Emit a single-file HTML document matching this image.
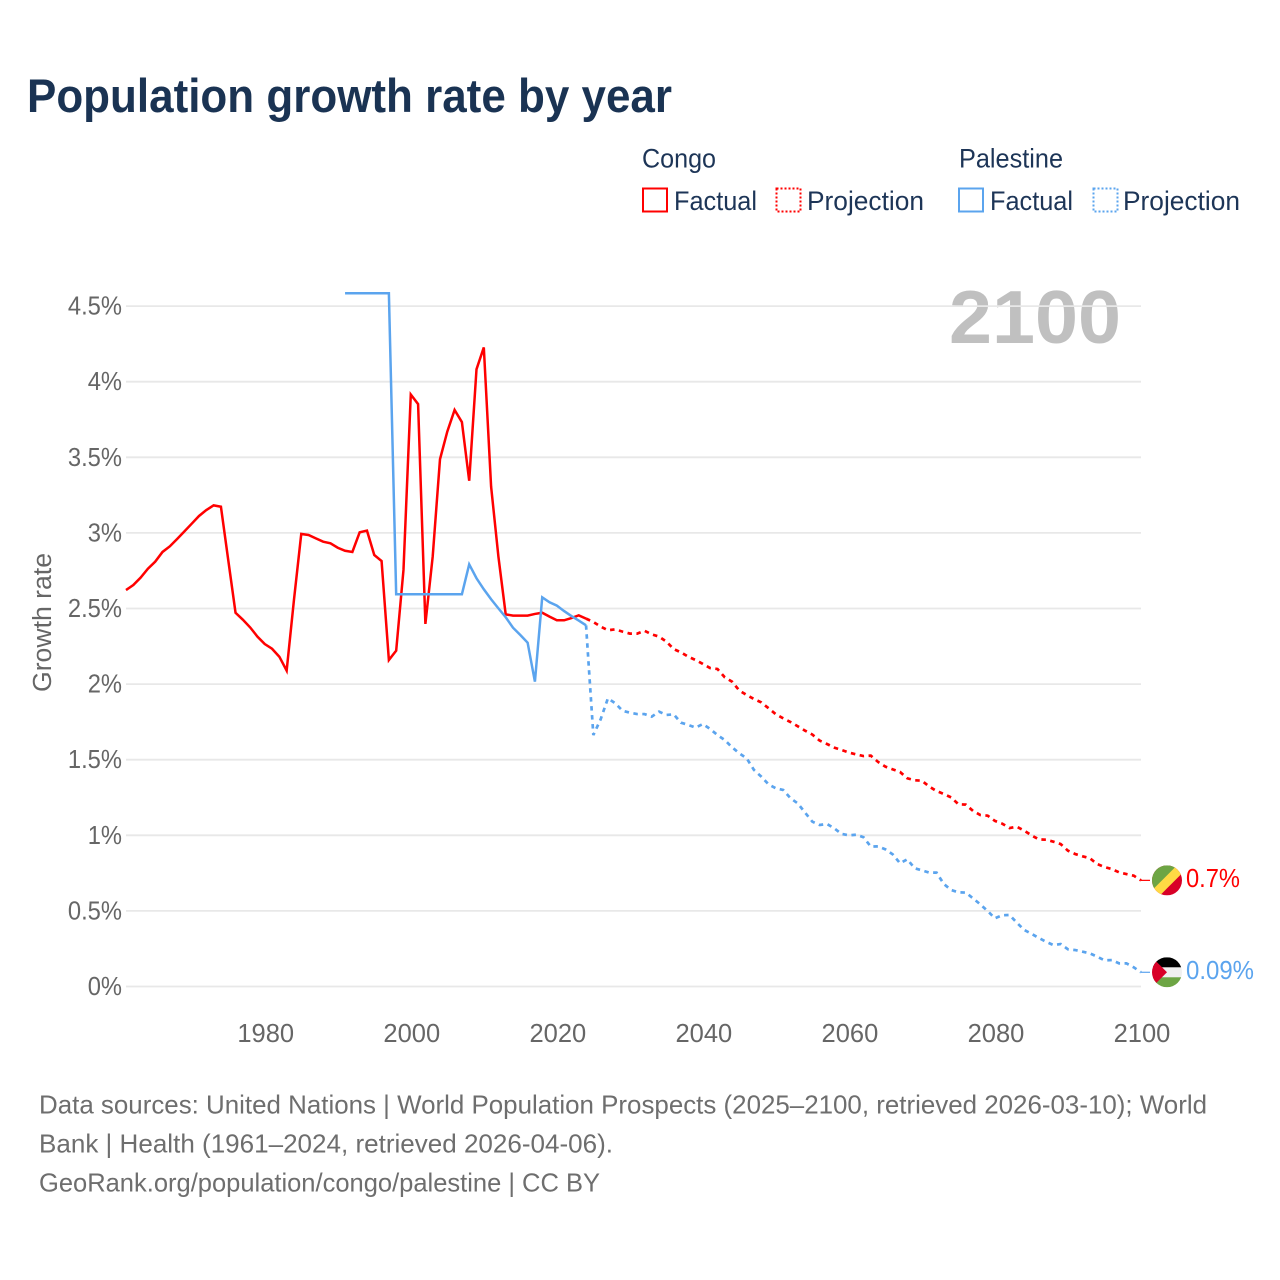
<!DOCTYPE html>
<html lang="en">
<head>
<meta charset="utf-8">
<title>Population growth rate by year</title>
<style>
  html, body { margin: 0; padding: 0; background: #ffffff; }
  #chart { display: block; width: 1280px; height: 1280px; font-family: "Liberation Sans", sans-serif; }
</style>
</head>
<body>
<svg id="chart" xmlns="http://www.w3.org/2000/svg" width="1280" height="1280" viewBox="0 0 1280 1280">
  <defs>
    <clipPath id="flag-clip-congo"><circle cx="0" cy="0" r="15"></circle></clipPath>
    <clipPath id="flag-clip-palestine"><circle cx="0" cy="0" r="15"></circle></clipPath>
  </defs>
  <text x="27" y="112" font-size="47.5" font-weight="700" fill="#1a3353" textLength="645" lengthAdjust="spacingAndGlyphs">Population growth rate by year</text>

  <g font-size="26.5" fill="#1d3557">
    <text x="642" y="167.5" textLength="74" lengthAdjust="spacingAndGlyphs">Congo</text>
    <text x="959" y="167.5" textLength="104" lengthAdjust="spacingAndGlyphs">Palestine</text>
    <rect x="643" y="188.5" width="24" height="23" fill="none" stroke="#ff0000" stroke-width="2"></rect>
    <text x="674" y="210" textLength="83" lengthAdjust="spacingAndGlyphs">Factual</text>
    <rect x="776.5" y="188.5" width="24" height="23" fill="none" stroke="#ff0000" stroke-width="2" stroke-dasharray="2 2"></rect>
    <text x="807" y="210" textLength="117" lengthAdjust="spacingAndGlyphs">Projection</text>
    <rect x="959" y="188.5" width="24" height="23" fill="none" stroke="#5ba4ee" stroke-width="2"></rect>
    <text x="990" y="210" textLength="83" lengthAdjust="spacingAndGlyphs">Factual</text>
    <rect x="1093.5" y="188.5" width="24" height="23" fill="none" stroke="#5ba4ee" stroke-width="2" stroke-dasharray="2 2"></rect>
    <text x="1123" y="210" textLength="117" lengthAdjust="spacingAndGlyphs">Projection</text>
  </g>

  <text x="949" y="343" font-size="75" font-weight="700" fill="#c0c0c0" textLength="172" lengthAdjust="spacingAndGlyphs">2100</text>

  <g id="grid-layer"></g>
  <g id="y-tick-layer" font-size="25.5" fill="#666666"></g>
  <g id="x-tick-layer" font-size="25.5" fill="#666666"></g>
  <text transform="translate(51,622.5) rotate(-90)" text-anchor="middle" font-size="25.5" fill="#666666" textLength="139" lengthAdjust="spacingAndGlyphs">Growth rate</text>
  <g id="series-layer"></g>

  <g id="flag-congo" clip-path="url(#flag-clip-congo)">
    <rect x="-15" y="-15" width="30" height="30" fill="#d80027"></rect>
    <polygon points="-15,15 -15,7 7,-15 15,-15 15,-7 -7,15" fill="#ffda44"></polygon>
    <polygon points="-15,-15 10,-15 -15,10" fill="#6da544"></polygon>
  </g>
  <g id="flag-palestine" clip-path="url(#flag-clip-palestine)">
    <rect x="-15" y="-15" width="30" height="30" fill="#f0f0f0"></rect>
    <rect x="-15" y="-15" width="30" height="10" fill="#000000"></rect>
    <rect x="-15" y="5" width="30" height="10" fill="#6da544"></rect>
    <polygon points="-15,-15 0,0 -15,15" fill="#d80027"></polygon>
  </g>
  <text id="end-label-congo" x="1186" font-size="26" fill="#ff0000" textLength="54" lengthAdjust="spacingAndGlyphs"></text>
  <text id="end-label-palestine" x="1186" font-size="26" fill="#5ba4ee" textLength="68" lengthAdjust="spacingAndGlyphs"></text>

  <g font-size="26" fill="#6e6e6e">
    <text x="39" y="1113.5" textLength="1168" lengthAdjust="spacingAndGlyphs">Data sources: United Nations | World Population Prospects (2025–2100, retrieved 2026-03-10); World</text>
    <text x="39" y="1152.5" textLength="574" lengthAdjust="spacingAndGlyphs">Bank | Health (1961–2024, retrieved 2026-04-06).</text>
    <text x="39" y="1191.5" textLength="561" lengthAdjust="spacingAndGlyphs">GeoRank.org/population/congo/palestine | CC BY</text>
  </g>
</svg>

<script>
const yTickValues = [0, 0.5, 1, 1.5, 2, 2.5, 3, 3.5, 4, 4.5];
const yTickLabels = ["0%", "0.5%", "1%", "1.5%", "2%", "2.5%", "3%", "3.5%", "4%", "4.5%"];
const xTickYears = [1980, 2000, 2020, 2040, 2060, 2080, 2100];

const congoFactualStart = 1961;
const congoFactual = [
  2.622, 2.655, 2.704, 2.763, 2.810, 2.874, 2.911, 2.960, 3.010, 3.061,
  3.112, 3.151, 3.182, 3.173, 2.821, 2.472, 2.426, 2.375, 2.314, 2.265,
  2.234, 2.181, 2.089, 2.556, 2.993, 2.986, 2.964, 2.942, 2.931, 2.902,
  2.882, 2.874, 3.004, 3.015, 2.854, 2.814, 2.159, 2.221, 2.755, 3.915,
  3.852, 2.398, 2.843, 3.487, 3.670, 3.813, 3.733, 3.345, 4.082, 4.227,
  3.306, 2.843, 2.461, 2.453, 2.453, 2.453, 2.464, 2.472, 2.446, 2.422,
  2.422, 2.437, 2.455, 2.433
];

const palestineFactualStart = 1991;
const palestineFactual = [
  4.585, 4.585, 4.585, 4.585, 4.585, 4.585, 4.585, 2.594, 2.594, 2.594,
  2.594, 2.594, 2.594, 2.594, 2.594, 2.594, 2.594, 2.792, 2.700, 2.627,
  2.561, 2.501, 2.442, 2.373, 2.325, 2.274, 2.016, 2.574, 2.541, 2.519,
  2.483, 2.450, 2.420, 2.389
];

const projectionStart = 2024;
const congoProjection = [
  2.433, 2.411, 2.380, 2.356, 2.362, 2.347, 2.334, 2.334, 2.353, 2.329,
  2.314, 2.281, 2.232, 2.210, 2.181, 2.159, 2.133, 2.106, 2.100, 2.045,
  2.016, 1.957, 1.928, 1.901, 1.879, 1.840, 1.800, 1.774, 1.749, 1.721,
  1.692, 1.666, 1.626, 1.604, 1.580, 1.564, 1.547, 1.535, 1.524, 1.527,
  1.485, 1.454, 1.436, 1.419, 1.377, 1.364, 1.361, 1.322, 1.293, 1.273,
  1.251, 1.205, 1.203, 1.161, 1.134, 1.130, 1.095, 1.077, 1.048, 1.057,
  1.031, 1.000, 0.973, 0.971, 0.958, 0.942, 0.898, 0.876, 0.861, 0.848,
  0.810, 0.790, 0.777, 0.755, 0.744, 0.733, 0.702
];
const palestineProjection = [
  2.389, 1.663, 1.767, 1.906, 1.873, 1.824, 1.811, 1.802, 1.802, 1.785,
  1.818, 1.796, 1.800, 1.745, 1.730, 1.712, 1.736, 1.703, 1.663, 1.630,
  1.582, 1.542, 1.509, 1.432, 1.388, 1.337, 1.311, 1.300, 1.245, 1.211,
  1.150, 1.090, 1.068, 1.075, 1.046, 1.009, 1.000, 1.004, 0.987, 0.925,
  0.927, 0.907, 0.874, 0.815, 0.841, 0.782, 0.768, 0.753, 0.753, 0.678,
  0.638, 0.623, 0.621, 0.583, 0.543, 0.499, 0.451, 0.471, 0.473, 0.422,
  0.374, 0.349, 0.321, 0.296, 0.274, 0.281, 0.246, 0.241, 0.230, 0.219,
  0.197, 0.173, 0.175, 0.153, 0.153, 0.127, 0.094
];

const congoEndLabel = "0.7%";
const palestineEndLabel = "0.09%";

const SVG_NS = "http://www.w3.org/2000/svg";
const plotLeft = 126, plotRight = 1141;
const domainStart = 1961, domainEnd = 2100;
const yZero = 986.5, yPerUnit = 151.2;

function xScale(year) {
  return plotLeft + (year - domainStart) * (plotRight - plotLeft) / (domainEnd - domainStart);
}
function yScale(value) {
  return yZero - value * yPerUnit;
}
function make(tag, attrs, parent) {
  const el = document.createElementNS(SVG_NS, tag);
  for (const key in attrs) el.setAttribute(key, attrs[key]);
  parent.appendChild(el);
  return el;
}
function linePoints(values, startYear) {
  return values.map(function (v, i) {
    return xScale(startYear + i).toFixed(2) + "," + yScale(v).toFixed(2);
  }).join(" ");
}

const gridLayer = document.getElementById("grid-layer");
const yTickLayer = document.getElementById("y-tick-layer");
const xTickLayer = document.getElementById("x-tick-layer");
const seriesLayer = document.getElementById("series-layer");

yTickValues.forEach(function (value, i) {
  const y = yScale(value);
  const grid = make("line", { x1: plotLeft, x2: plotRight, y1: y, y2: y, stroke: "#e8e8e8", "stroke-width": 1.8 }, gridLayer);
  
  
  const label = make("text", { x: 122, y: y + 8.5, "text-anchor": "end" }, yTickLayer);
  
  
  label.textContent = yTickLabels[i];
  const natural = label.getComputedTextLength();
  label.setAttribute("textLength", (natural * 0.93).toFixed(1));
  label.setAttribute("lengthAdjust", "spacingAndGlyphs");
});

xTickYears.forEach(function (year) {
  const label = make("text", { x: xScale(year) + 1, y: 1042, "text-anchor": "middle" }, xTickLayer);
  
  
  label.textContent = String(year);
});

const congoFactualLine = make("polyline", { points: linePoints(congoFactual, congoFactualStart), fill: "none", stroke: "#ff0000", "stroke-width": 2.5, "stroke-linejoin": "miter" }, seriesLayer);



const congoProjectionLine = make("polyline", { points: linePoints(congoProjection, projectionStart), fill: "none", stroke: "#ff0000", "stroke-width": 2.7, "stroke-dasharray": "4.5 4.5" }, seriesLayer);



const palestineFactualLine = make("polyline", { points: linePoints(palestineFactual, palestineFactualStart), fill: "none", stroke: "#5ba4ee", "stroke-width": 2.5, "stroke-linejoin": "miter" }, seriesLayer);



const palestineProjectionLine = make("polyline", { points: linePoints(palestineProjection, projectionStart), fill: "none", stroke: "#5ba4ee", "stroke-width": 2.7, "stroke-dasharray": "4.5 4.5" }, seriesLayer);



const congoEndY = yScale(congoProjection[congoProjection.length - 1]);
const palestineEndY = yScale(palestineProjection[palestineProjection.length - 1]);

const congoLeader = make("line", { x1: plotRight, x2: 1150, y1: congoEndY, y2: congoEndY, stroke: "#ff0000", "stroke-width": 1.2 }, seriesLayer);



const palestineLeader = make("line", { x1: plotRight, x2: 1150, y1: palestineEndY, y2: palestineEndY, stroke: "#5ba4ee", "stroke-width": 1.2 }, seriesLayer);



document.getElementById("flag-congo").setAttribute("transform", "translate(1167," + congoEndY + ")");
document.getElementById("flag-palestine").setAttribute("transform", "translate(1167," + palestineEndY + ")");

const congoLabel = document.getElementById("end-label-congo");
congoLabel.setAttribute("y", congoEndY + 6.5);
congoLabel.textContent = congoEndLabel;

const palestineLabel = document.getElementById("end-label-palestine");
palestineLabel.setAttribute("y", palestineEndY + 6.5);
palestineLabel.textContent = palestineEndLabel;
</script>
</body>
</html>
